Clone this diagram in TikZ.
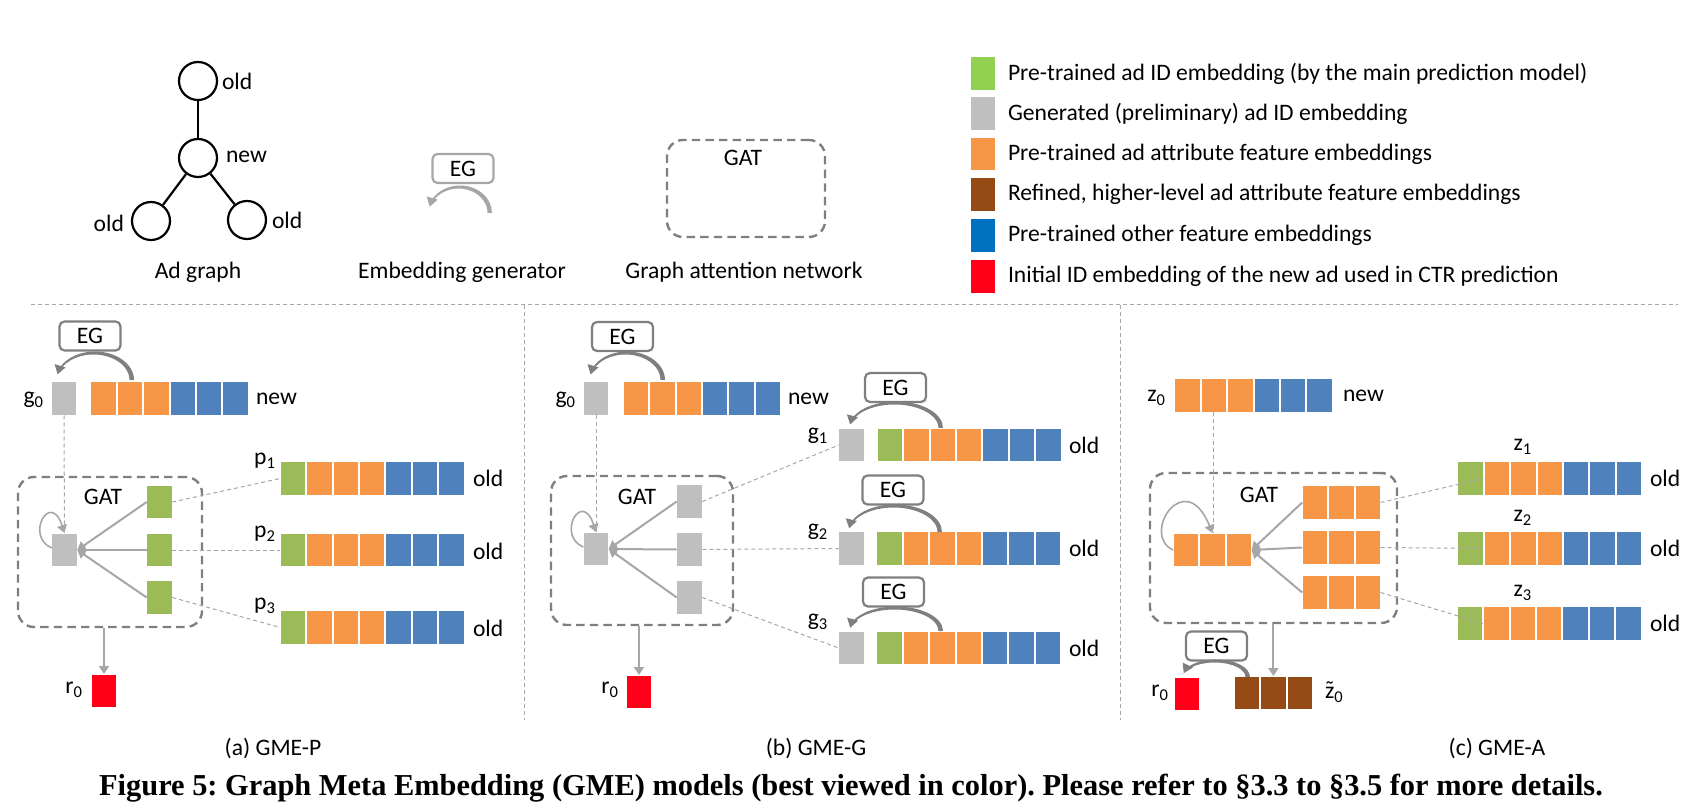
\documentclass[tikz,border=0pt]{standalone}
\usepackage{fontspec}
\setmainfont{Carlito}
\newfontfamily\capfont{Liberation Serif}
\usetikzlibrary{arrows.meta,calc}
\definecolor{cgreen}{HTML}{9BBB59}
\definecolor{lgreen}{HTML}{92D050}
\definecolor{cgray}{HTML}{BFBFBF}
\definecolor{corange}{HTML}{F79646}
\definecolor{cblue}{HTML}{4F81BD}
\definecolor{lblue}{HTML}{0070C0}
\definecolor{cbrown}{HTML}{964B16}
\definecolor{cred}{HTML}{FF0018}
\definecolor{dgray}{HTML}{7F7F7F}
\definecolor{lgray}{HTML}{A6A6A6}
\tikzset{
  emb/.style={draw=white, line width=0.6pt, minimum width=12.8pt, minimum height=17pt, inner sep=0pt, outer sep=0pt},
  txt/.style={font=\fontsize{11.8}{14}\selectfont, inner sep=0pt, outer sep=0pt},
  egbox/.style={draw=dgray, line width=1.1pt, rounded corners=2.5pt, fill=white, minimum width=30.5pt, minimum height=14.5pt, inner sep=0pt, font=\fontsize{11.8}{14}\selectfont},
  gatbox/.style={draw=dgray, line width=1.2pt, dash pattern=on 4.2pt off 2.6pt, rounded corners=8pt, inner sep=0pt},
  conn/.style={draw=lgray, line width=1pt},
  dconn/.style={draw=lgray, line width=0.5pt, dash pattern=on 2pt off 1.5pt},
  sepline/.style={draw=lgray, line width=0.5pt, dash pattern=on 2pt off 1.5pt},
  arr/.style={-{Triangle[width=5pt,length=4pt]}},
  circ/.style={circle, draw=black, line width=1.1pt, minimum size=19pt, inner sep=0pt},
}
\newcommand\embrow[4]{\foreach \cc [count=\ii] in {#4}{\node[emb,fill=\cc] (#1-\ii) at ({#2+(\ii-1)*26.4},#3) {};}}
\newcommand\egarc[6]{%
  \pgfmathsetmacro\ea{#5}%
  \pgfmathsetmacro\rxo{#3+2}\pgfmathsetmacro\ryo{#4+1.5}%
  \pgfmathsetmacro\rxi{#3-1}\pgfmathsetmacro\ryi{#4-1.5}%
  \pgfmathsetmacro\xs{#1+\rxo}%
  \pgfmathsetmacro\xie{#1-1.5+\rxi*cos(\ea)}\pgfmathsetmacro\yie{#2+\ryi*sin(\ea)}%
  \pgfmathsetmacro\rxm{#3+0.5}%
  \pgfmathsetmacro\xm{#1-0.75+\rxm*cos(\ea)}\pgfmathsetmacro\ym{#2+#4*sin(\ea)}%
  \pgfmathsetmacro\eb{\ea-16}%
  \fill[#6] (\xs,#2) arc[start angle=0,end angle=\ea,x radius=\rxo,y radius=\ryo] -- (\xie,\yie) arc[start angle=\ea,end angle=0,x radius=\rxi,y radius=\ryi] -- cycle;
  \draw[#6, line width=0.8pt, -{Triangle[width=5.5pt,length=4.5pt]}] (\xm,\ym) arc[start angle=\ea,end angle=\eb,x radius=\rxm,y radius=#4];
}
\newcommand\ztilde{{\ooalign{z\cr\hidewidth\raisebox{0.12ex}{\char"02DC}\hidewidth\cr}}}
\begin{document}
\begin{tikzpicture}[x=0.5pt,y=-0.5pt]
\useasboundingbox (0,0) rectangle (1702,812);
% ---------------- top legend: ad graph ----------------
\node[circ] (n1) at (198,81) {};
\node[circ] (n0) at (198,158) {};
\node[circ] (n2) at (151,221) {};
\node[circ] (n3) at (247,220) {};
\draw[line width=1.1pt] (n1) -- (n0);
\draw[line width=1.1pt] (n0) -- (n2);
\draw[line width=1.1pt] (n0) -- (n3);
\node[txt,anchor=west] (t1) at (222,81) {old};
\node[txt,anchor=west] (t0) at (226,157) {new};
\node[txt,anchor=east] (t2) at (124,223) {old};
\node[txt,anchor=west] (t3) at (272,220) {old};
\node[txt] (cap1) at (198,272) {Ad graph};
% EG legend
\node[egbox,draw=lgray] (egl) at (463,168.5) {EG};
\egarc{460}{213}{30}{26}{-150}{lgray}
\node[txt] (cap2) at (462,272) {Embedding generator};
% GAT legend
\node[gatbox,minimum width=79pt,minimum height=48.5pt] (gatl) at (746,188.5) {};
\node[txt] (gatlt) at (743,158) {GAT};
\node[txt] (cap3) at (744,272) {Graph attention network};
% colour legend
\node[emb,fill=lgreen] (lg1) at (983,73.5) {};
\node[emb,fill=cgray] (lg2) at (983,113.5) {};
\node[emb,fill=corange] (lg3) at (983,154) {};
\node[emb,fill=cbrown] (lg4) at (983,194.5) {};
\node[emb,fill=lblue] (lg5) at (983,235.5) {};
\node[emb,fill=cred] (lg6) at (983,276.5) {};
\node[txt,anchor=west] (lt1) at (1008,73.5) {Pre-trained ad ID embedding (by the main prediction model)};
\node[txt,anchor=west] (lt2) at (1008,113.5) {Generated (preliminary) ad ID embedding};
\node[txt,anchor=west] (lt3) at (1008,154) {Pre-trained ad attribute feature embeddings};
\node[txt,anchor=west] (lt4) at (1008,194.5) {Refined, higher-level ad attribute feature embeddings};
\node[txt,anchor=west] (lt5) at (1008,235.5) {Pre-trained other feature embeddings};
\node[txt,anchor=west] (lt6) at (1008,276.5) {Initial ID embedding of the new ad used in CTR prediction};
% separators
\coordinate (h1) at (31,305); \coordinate (h2) at (1678,305);
\coordinate (v1t) at (524,305); \coordinate (v1b) at (524,720);
\coordinate (v2t) at (1120,305); \coordinate (v2b) at (1120,720);
\draw[sepline] (h1) -- (h2);
\draw[sepline] (v1t) -- (v1b);
\draw[sepline] (v2t) -- (v2b);
% ---------------- panel (a) ----------------
\node[gatbox,minimum width=92pt,minimum height=75pt] (gatA) at (110,552) {};
\node[txt] (gatAt) at (103,497) {GAT};
\node[emb,fill=cgray] (ga0) at (64,398.5) {};
\embrow{na}{103.5}{398.5}{corange,corange,corange,cblue,cblue,cblue}
\node[egbox] (ega) at (90,336) {EG};
\egarc{95}{380}{37}{27}{-152}{dgray}
\node[txt,anchor=east] (lga0) at (44,400) {g\textsubscript{0}};
\node[txt,anchor=west] (lnewa) at (256,398.5) {new};
\node[emb,fill=cgray] (ga) at (64.5,550) {};
\node[emb,fill=cgreen] (ia1) at (159.5,502) {};
\node[emb,fill=cgreen] (ia2) at (159.5,550) {};
\node[emb,fill=cgreen] (ia3) at (159.5,597.5) {};
\embrow{pa1}{293}{478.5}{cgreen,corange,corange,corange,cblue,cblue,cblue}
\embrow{pa2}{293}{550}{cgreen,corange,corange,corange,cblue,cblue,cblue}
\embrow{pa3}{293}{627.5}{cgreen,corange,corange,corange,cblue,cblue,cblue}
\node[txt] (lp1) at (265,461) {p\textsubscript{1}};
\node[txt] (lp2) at (265,534) {p\textsubscript{2}};
\node[txt] (lp3) at (265,606) {p\textsubscript{3}};
\node[txt,anchor=west] (loa1) at (473,478.5) {old};
\node[txt,anchor=west] (loa2) at (473,551) {old};
\node[txt,anchor=west] (loa3) at (473,628) {old};
\node[emb,fill=cred] (ra) at (104,691) {};
\node[txt,anchor=east] (lra) at (83,690) {r\textsubscript{0}};
\draw[dconn] (ga0.south) -- (ga.north);
\draw[conn,line width=0.8pt,arr] ($(ga.west)+(0,-2)$) .. controls ($(ga.center)+(-40,-14)$) and ($(ga.center)+(-14,-60)$) .. (ga.north);
\draw[conn,arr] (ia1.west) -- (ga.east);
\draw[conn,arr] (ia2.west) -- (ga.east);
\draw[conn,arr] (ia3.west) -- (ga.east);
\draw[dconn] (ia1.east) -- (pa1-1.west);
\draw[dconn] (ia2.east) -- (pa2-1.west);
\draw[dconn] (ia3.east) -- (pa3-1.west);
\draw[conn,arr] (gatA.south -| ra) -- (ra.north);
\node[txt] (capa) at (273,749) {(a) GME-P};
% ---------------- panel (b) ----------------
\node[gatbox,minimum width=91pt,minimum height=74.5pt] (gatB) at (642,550.5) {};
\node[txt] (gatBt) at (637,497) {GAT};
\node[emb,fill=cgray] (gb0) at (596,398.5) {};
\embrow{nb}{636}{398.5}{corange,corange,corange,cblue,cblue,cblue}
\node[egbox] (egb0) at (622.5,336.5) {EG};
\egarc{627}{380}{36}{27}{-152}{dgray}
\node[txt,anchor=east] (lgb0) at (576,400) {g\textsubscript{0}};
\node[txt,anchor=west] (lnewb) at (788,398.5) {new};
\node[emb,fill=cgray] (gb) at (596,549) {};
\node[emb,fill=cgray] (ib1) at (689.5,501.5) {};
\node[emb,fill=cgray] (ib2) at (689.5,549.5) {};
\node[emb,fill=cgray] (ib3) at (689.5,597.5) {};
\node[emb,fill=cgray] (gb1) at (851.5,445) {};
\node[emb,fill=cgray] (gb2) at (851.5,548.5) {};
\node[emb,fill=cgray] (gb3) at (851.5,648) {};
\embrow{b1}{890}{445}{cgreen,corange,corange,corange,cblue,cblue,cblue}
\embrow{b2}{889.5}{548.5}{cgreen,corange,corange,corange,cblue,cblue,cblue}
\embrow{b3}{889.5}{648}{cgreen,corange,corange,corange,cblue,cblue,cblue}
\node[egbox] (egb1) at (895.5,387.5) {EG};
\egarc{896}{428}{45}{25}{-156}{dgray}
\node[egbox] (egb2) at (893,490) {EG};
\egarc{895}{532}{45}{26}{-156}{dgray}
\node[egbox] (egb3) at (893.5,592) {EG};
\egarc{896}{631}{45}{23}{-156}{dgray}
\node[txt] (lgb1) at (818,436) {g\textsubscript{1}};
\node[txt] (lgb2) at (818,532) {g\textsubscript{2}};
\node[txt] (lgb3) at (818,622) {g\textsubscript{3}};
\node[txt,anchor=west] (lob1) at (1069,445) {old};
\node[txt,anchor=west] (lob2) at (1069,548.5) {old};
\node[txt,anchor=west] (lob3) at (1069,648) {old};
\node[emb,fill=cred] (rb) at (639,692) {};
\node[txt,anchor=east] (lrb) at (619,690) {r\textsubscript{0}};
\draw[dconn] (gb0.south) -- (gb.north);
\draw[conn,line width=0.8pt,arr] ($(gb.west)+(0,-2)$) .. controls ($(gb.center)+(-40,-14)$) and ($(gb.center)+(-14,-60)$) .. (gb.north);
\draw[conn,arr] (ib1.west) -- (gb.east);
\draw[conn,arr] (ib2.west) -- (gb.east);
\draw[conn,arr] (ib3.west) -- (gb.east);
\draw[dconn] (ib1.east) -- (gb1.west);
\draw[dconn] (ib2.east) -- (gb2.west);
\draw[dconn] (ib3.east) -- (gb3.west);
\draw[conn,arr] (gatB.south -| rb) -- (rb.north);
\node[txt] (capb) at (816,749) {(b) GME-G};
% ---------------- panel (c) ----------------
\node[gatbox,minimum width=123.5pt,minimum height=75pt] (gatC) at (1273.5,548) {};
\node[txt] (gatCt) at (1259,495) {GAT};
\embrow{zc0}{1187.5}{395.5}{corange,corange,corange,cblue,cblue,cblue}
\node[txt,anchor=east] (lzc0) at (1166,398) {z\textsubscript{0}};
\node[txt,anchor=west] (lnewc) at (1343,396) {new};
\embrow{cc}{1186}{550}{corange,corange,corange}
\embrow{ic1}{1315}{502.5}{corange,corange,corange}
\embrow{ic2}{1315}{547.5}{corange,corange,corange}
\embrow{ic3}{1315}{592.5}{corange,corange,corange}
\embrow{zc1}{1470.5}{478.5}{cgreen,corange,corange,corange,cblue,cblue,cblue}
\embrow{zc2}{1470.5}{548.5}{cgreen,corange,corange,corange,cblue,cblue,cblue}
\embrow{zc3}{1470}{623.5}{cgreen,corange,corange,corange,cblue,cblue,cblue}
\node[txt] (lz1) at (1523,447) {z\textsubscript{1}};
\node[txt] (lz2) at (1523,518) {z\textsubscript{2}};
\node[txt] (lz3) at (1523,593) {z\textsubscript{3}};
\node[txt,anchor=west] (loc1) at (1650,478.5) {old};
\node[txt,anchor=west] (loc2) at (1650,548.5) {old};
\node[txt,anchor=west] (loc3) at (1650,623.5) {old};
\node[emb,fill=cred] (rc) at (1187,694) {};
\node[txt,anchor=east] (lrc) at (1169,693) {r\textsubscript{0}};
\embrow{br}{1247}{693}{cbrown,cbrown,cbrown}
\node[txt,anchor=west] (lzt) at (1325,695) {\ztilde\textsubscript{0}};
\node[egbox] (egc) at (1216.5,646) {EG};
\egarc{1216}{677}{32}{16}{-150}{dgray}
\draw[dconn] (zc0-2.south) -- (zc0-2.south |- cc-2.north);
\draw[conn,line width=0.8pt,arr] ($(cc-1.west)+(0,0)$) .. controls ($(cc-1.center)+(-46,-15)$) and ($(cc-1.center)+(-1,-85)$) .. (cc-2.north);
\draw[conn,arr] (ic1-1.west) -- (cc-3.east);
\draw[conn,arr] (ic2-1.west) -- (cc-3.east);
\draw[conn,arr] (ic3-1.west) -- (cc-3.east);
\draw[dconn] (ic1-3.east) -- (zc1-1.east);
\draw[dconn] (ic2-3.east) -- (zc2-1.east);
\draw[dconn] (ic3-3.east) -- (zc3-1.east);
\draw[conn,arr] (gatC.south -| br-2) -- (br-2.north);
\node[txt] (capc) at (1497,749) {(c) GME-A};
% ---------------- caption ----------------
\node[font=\capfont\bfseries\fontsize{15.2}{18}\selectfont, inner sep=0pt] (fig) at (851,788) {\frenchspacing Figure 5: Graph Meta Embedding (GME) models (best viewed in color). Please refer to §3.3 to §3.5 for more details.};
\end{tikzpicture}
\end{document}
